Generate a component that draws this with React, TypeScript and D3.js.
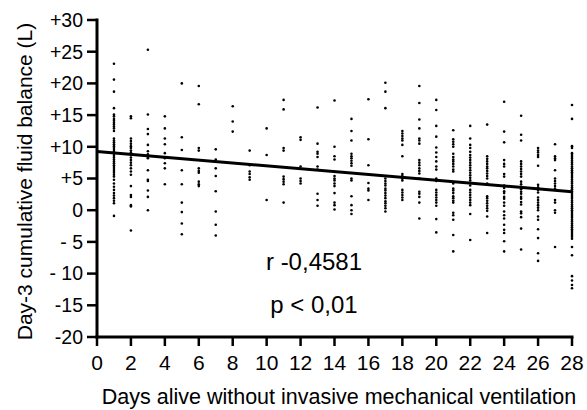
import React from "react";
import * as d3 from "d3";

const days = [1, 2, 3, 4, 5, 6, 7, 8, 9, 10, 11, 12, 13, 14, 15, 16, 17, 18, 19, 20, 21, 22, 23, 24, 25, 26, 27, 28];

const day1 = [23.1, 20.6, 18.7, 16.1, 15.1, 14.8, 14.4, 14.1, 13.8, 13.5, 13.2, 12.9, 12.5, 11.3, 11.0, 10.7, 10.4, 10.1, 9.8, 9.5, 9.2, 8.9, 8.6, 8.3, 8.0, 7.7, 7.4, 7.1, 6.8, 6.5, 6.2, 5.9, 5.6, 5.3, 4.8, 4.2, 3.7, 3.2, 2.7, 2.3, 1.9, 1.5, 1.1, -0.9];
const day2 = [14.8, 14.5, 11.3, 10.9, 10.5, 10.1, 9.8, 9.4, 9.1, 8.7, 8.3, 7.9, 7.5, 7.1, 6.6, 6.1, 5.6, 3.8, 2.4, 2.1, 0.8, 0.6, -3.2];
const day3 = [25.3, 15.1, 12.8, 12.0, 10.3, 9.3, 8.8, 8.4, 8.2, 6.3, 4.8, 4.6, 3.1, 2.1, 0.0];
const day4 = [14.8, 12.9, 11.3, 10.4, 9.0, 8.2, 7.4, 6.6, 4.1];
const day5 = [20.0, 11.5, 9.5, 6.3, 4.1, 1.2, -0.3, -2.1, -3.8];
const day6 = [19.6, 16.7, 9.8, 9.4, 6.6, 6.2, 5.9, 4.5, 4.1, 3.8];
const day7 = [9.6, 8.0, 6.6, 5.4, 3.0, -0.2, -2.3, -4.0];
const day8 = [16.4, 14.0, 12.4];
const day9 = [9.4, 7.1, 6.1, 5.7, 5.2, 4.8];
const day10 = [12.9, 8.7, 1.6];
const day11 = [17.4, 15.9, 9.8, 9.4, 5.3, 4.9, 4.5, 4.1, 1.2];
const day12 = [11.5, 11.1, 6.9, 5.0, 4.6, 4.2];
const day13 = [16.2, 10.5, 9.2, 8.9, 8.4, 6.9, 6.4, 2.6, 1.6, 0.7];
const day14 = [17.3, 10.0, 8.5, 8.0, 5.4, 5.0, 4.7, 4.2, 3.8, 2.7, 1.2, 0.8, 0.1];
const day15 = [14.4, 12.5, 11.0, 8.9, 8.5, 8.2, 7.8, 7.4, 7.0, 5.0, 4.7, 2.2, 0.8, 0.0, -0.6];
const day16 = [17.5, 11.2, 7.1, 4.3, 3.4, 3.1, 1.6];
const day17 = [20.1, 18.7, 16.1, 5.0, 4.6, 4.2, 3.9, 3.4, 3.1, 2.7, 2.3, 1.9, 1.4, 1.1, 0.7, 0.3, -0.2];
const day18 = [12.5, 12.1, 11.7, 11.3, 11.0, 10.3, 8.5, 5.7, 5.4, 5.0, 4.7, 3.2, 2.8, 2.4, 2.0, 1.6];
const day19 = [19.6, 16.9, 14.3, 12.9, 11.3, 11.0, 10.5, 7.9, 7.5, 7.1, 6.6, 6.2, 5.8, 5.0, 2.9, 2.6, 2.1, 1.2, -1.3];
const day20 = [17.4, 15.8, 13.3, 11.6, 9.9, 9.1, 8.4, 7.7, 6.9, 6.4, 5.0, 4.6, 3.2, 2.8, 2.4, 2.0, 1.6, 1.2, 0.7, -1.4, -3.5];
const day21 = [12.6, 11.2, 10.8, 10.4, 10.0, 8.9, 8.4, 8.0, 7.7, 7.3, 6.9, 6.4, 6.1, 4.2, 3.4, 3.1, 2.7, 2.2, 1.9, 1.5, 1.2, -0.4, -0.8, -1.5, -3.9, -6.5];
const day22 = [13.3, 11.3, 10.3, 9.8, 9.2, 8.7, 8.3, 7.9, 7.5, 7.1, 6.7, 6.3, 5.9, 5.5, 5.1, 4.7, 4.3, 3.9, 3.2, 2.8, 2.4, 2.0, 1.6, 1.2, 0.8, -0.6, -4.7];
const day23 = [13.5, 8.5, 8.1, 7.7, 7.3, 6.9, 6.6, 6.2, 5.8, 5.4, 5.0, 4.2, 2.2, 1.9, 1.5, 1.1, 0.7, 0.3, -0.1, -1.0, -3.6];
const day24 = [17.1, 12.4, 10.7, 7.9, 7.3, 6.9, 5.7, 5.3, 3.9, 3.5, 3.0, 2.7, 2.1, 1.8, 1.2, 0.7, -0.2, -0.8, -1.3, -2.3, -3.1, -3.6, -4.9, -6.5];
const day25 = [14.9, 11.9, 11.0, 7.7, 7.3, 6.9, 6.5, 6.1, 5.7, 5.3, 4.5, 4.1, 3.7, 3.3, 2.9, 2.6, 2.1, 1.8, 1.3, 0.9, -0.2, -0.5, -1.1, -2.9, -6.2];
const day26 = [9.8, 9.4, 9.1, 8.7, 8.4, 7.0, 4.0, 3.6, 3.2, 2.8, 2.0, 1.6, 1.2, 0.8, 0.4, 0.0, -1.0, -1.5, -3.0, -4.4, -6.8, -8.0];
const day27 = [10.4, 8.5, 8.2, 7.9, 6.3, 5.0, 4.6, 4.2, 3.8, 3.4, 1.6, 1.2, 0.0, -0.4, -5.8];
const day28 = [16.6, 14.4, 10.1, 9.8, 9.0, 8.7, 8.4, 8.1, 7.8, 7.5, 7.2, 6.9, 6.6, 6.3, 6.0, 5.7, 5.4, 5.1, 4.8, 4.5, 4.2, 3.9, 3.6, 3.3, 3.0, 2.7, 2.4, 2.1, 1.8, 1.5, 1.2, 0.9, 0.6, 0.3, 0.0, -0.3, -0.6, -0.9, -1.2, -1.5, -1.8, -2.1, -2.4, -2.7, -3.0, -3.3, -3.6, -3.9, -4.2, -4.5, -5.8, -7.1, -10.4, -11.1, -11.8, -12.3];

const balancesByDay = [day1, day2, day3, day4, day5, day6, day7, day8, day9, day10, day11, day12, day13, day14, day15, day16, day17, day18, day19, day20, day21, day22, day23, day24, day25, day26, day27, day28];

const xTicks = [0, 2, 4, 6, 8, 10, 12, 14, 16, 18, 20, 22, 24, 26, 28];
const yTicks = [30, 25, 20, 15, 10, 5, 0, -5, -10, -15, -20];
const yTickLabels = ["+30", "+25", "+20", "+15", "+10", "+5", "0", "- 5", "- 10", "-15", "-20"];

const fitIntercept = 9.25;
const fitSlope = -0.226;
const fitRange = [0, 28];

const xTitle = "Days alive without invasive mechanical ventilation";
const yTitle = "Day-3 cumulative fluid balance (L)";
const rText = "r -0,4581";
const pText = "p < 0,01";

const FONT = "'Liberation Sans', Arial, Helvetica, sans-serif";

export default function App() {
  const W = 587;
  const H = 410;
  const x = d3.scaleLinear().domain([0, 28]).range([97, 572]);
  const y = d3.scaleLinear().domain([-20, 30]).range([337, 20]);

  const points: { d: number; v: number }[] = [];
  days.forEach((d, i) => balancesByDay[i].forEach((v) => points.push({ d, v })));

  const line = d3
    .line<number>()
    .x((d) => x(d))
    .y((d) => y(fitIntercept + fitSlope * d));

  return (
    <svg
      width={W}
      height={H}
      style={{ position: "absolute", left: 0, top: 0, background: "#fff" }}
      fontFamily={FONT}
    >
      <rect width={W} height={H} fill="#fff" />
      {points.map((p, i) => (
        <circle key={i} cx={x(p.d)} cy={y(p.v)} r={1.3} fill="#000" />
      ))}
      <path d={line(fitRange) || ""} stroke="#000" strokeWidth={3} fill="none" />

      {/* y axis */}
      <line x1={x(0)} x2={x(0)} y1={y(30) - 1.5} y2={y(-20) + 1.5} stroke="#000" strokeWidth={3} />
      {yTicks.map((t, i) => (
        <g key={t}>
          <line x1={x(0) - 10} x2={x(0)} y1={y(t)} y2={y(t)} stroke="#000" strokeWidth={2.5} />
          <text x={83} y={y(t)} dy="0.35em" textAnchor="end" fontSize={19.5} fill="#000">
            {yTickLabels[i]}
          </text>
        </g>
      ))}

      {/* x axis */}
      <line x1={x(0) - 1.5} x2={x(28) + 1.5} y1={y(-20)} y2={y(-20)} stroke="#000" strokeWidth={3} />
      {xTicks.map((t) => (
        <g key={t}>
          <line x1={x(t)} x2={x(t)} y1={y(-20)} y2={y(-20) + 9} stroke="#000" strokeWidth={2.5} />
          <text x={x(t)} y={370} textAnchor="middle" fontSize={21} fill="#000">
            {t}
          </text>
        </g>
      ))}

      <text x={339} y={404} textAnchor="middle" fontSize={21.5} fill="#000">
        {xTitle}
      </text>
      <text
        transform={`translate(31.5, 181.5) rotate(-90)`}
        textAnchor="middle"
        fontSize={21}
        fill="#000"
      >
        {yTitle}
      </text>

      <text x={314} y={270} textAnchor="middle" fontSize={24} fill="#000">
        {rText}
      </text>
      <text x={314} y={313} textAnchor="middle" fontSize={24} fill="#000">
        {pText}
      </text>
    </svg>
  );
}
